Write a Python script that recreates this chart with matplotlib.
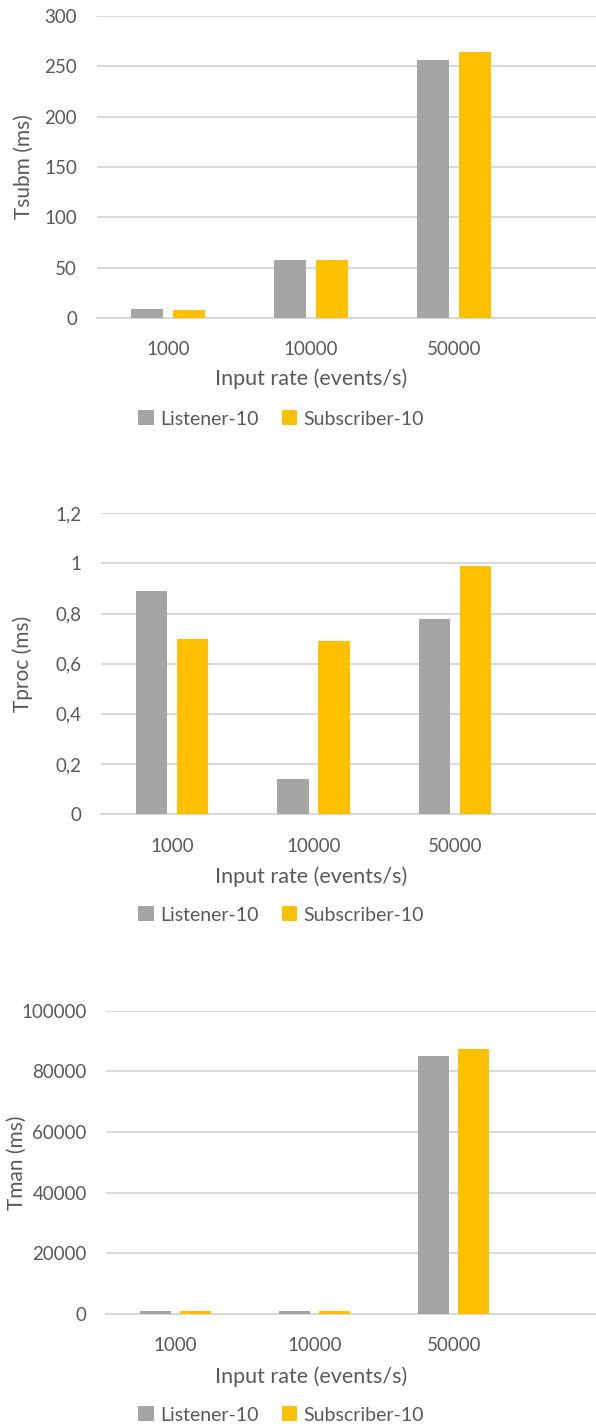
import matplotlib
matplotlib.use("Agg")
import matplotlib.pyplot as plt
from matplotlib.ticker import FuncFormatter
from matplotlib.patches import Patch

categories = ["1000", "10000", "50000"]
series_names = ["Listener-10", "Subscriber-10"]

tsubm_listener = [9, 58, 256]
tsubm_subscriber = [7.5, 58, 264]

tproc_listener = [0.89, 0.14, 0.78]
tproc_subscriber = [0.70, 0.69, 0.99]

tman_listener = [900, 900, 85000]
tman_subscriber = [950, 950, 87500]

W, H = 596, 1427
DPI = 100
GRAY = "#A5A5A5"
YELLOW = "#FFC000"
GRID = "#D9D9D9"
TEXT = "#595959"
FONT = ["Lato", "DejaVu Sans"]

plt.rcParams["font.family"] = FONT
plt.rcParams["text.color"] = TEXT

fig = plt.figure(figsize=(W / DPI, H / DPI), dpi=DPI)
fig.patch.set_facecolor("white")

panels = [
    (tsubm_listener, tsubm_subscriber, "Tsubm (ms)", 300, 50, 16, 318, 168, 143, 24, 350, 379, 419, "int"),
    (tproc_listener, tproc_subscriber, "Tproc (ms)", 1.2, 0.2, 513.3, 814, 172, 141.5, 23, 847, 877, 915, "comma"),
    (tman_listener, tman_subscriber, "Tman (ms)", 100000, 20000, 1010.7, 1314, 175.7, 139, 17, 1346, 1377, 1415, "int"),
]

bw = 0.225
off = 0.145
for (lis, sub, ylab, ymax, ystep, ptop, pzero, c0, sp, ylx, xty, xly, legy, fmt) in panels:
    left = c0 - sp / 2
    ax = fig.add_axes([left / W, 1 - pzero / H, (W - left) / W, (pzero - ptop) / H])
    x = list(range(len(categories)))
    ax.bar([i - off for i in x], lis, width=bw, color=GRAY, zorder=3, label=series_names[0])
    ax.bar([i + off for i in x], sub, width=bw, color=YELLOW, zorder=3, label=series_names[1])
    ax.set_xlim(-0.5, (W - c0) / sp)
    ax.set_ylim(0, ymax)
    nt = int(round(ymax / ystep))
    ax.set_yticks([ystep * k for k in range(nt + 1)])
    if fmt == "comma":
        ax.yaxis.set_major_formatter(FuncFormatter(lambda v, p: ("%g" % round(v, 2)).replace(".", ",")))
    else:
        ax.yaxis.set_major_formatter(FuncFormatter(lambda v, p: "%d" % round(v)))
    ax.set_xticks(x)
    ax.set_xticklabels(categories)
    for s in ["top", "right", "left"]:
        ax.spines[s].set_visible(False)
    ax.spines["bottom"].set_color(GRID)
    ax.spines["bottom"].set_linewidth(1.5)
    ax.spines["bottom"].set_zorder(2)
    ax.grid(axis="y", color=GRID, linewidth=1.5, zorder=0)
    ax.set_axisbelow(True)
    ax.tick_params(axis="both", length=0, labelsize=13.5, colors=TEXT)
    ax.tick_params(axis="y", pad=14)
    ax.tick_params(axis="x", pad=(xty - pzero - 9) * 72 / DPI)
    ax.set_ylabel(ylab, fontsize=15, color=TEXT)
    ax.yaxis.set_label_coords((ylx - left) / (W - left), 0.5)
    ax.yaxis.label.set_va("center")
    ax.set_xlabel("Input rate (events/s)", fontsize=15.5, color=TEXT)
    ax.xaxis.set_label_coords((311 - left) / (W - left), -(xly - pzero) / (pzero - ptop))
    ax.xaxis.label.set_va("center")
    handles = [Patch(facecolor=GRAY), Patch(facecolor=YELLOW)]
    fig.legend(handles, series_names, loc="center", bbox_to_anchor=(281 / W, 1 - legy / H),
               ncol=2, frameon=False, fontsize=14, handlelength=0.8, handleheight=0.8,
               handletextpad=0.3, columnspacing=1.2, labelcolor=TEXT)

fig.savefig("out.png", dpi=DPI, facecolor="white")
